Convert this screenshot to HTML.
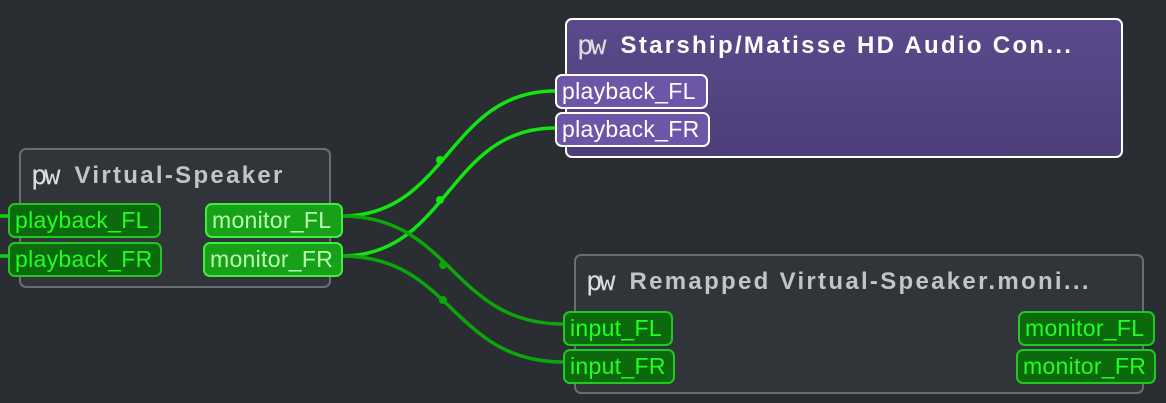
<!DOCTYPE html>
<html><head><meta charset="utf-8"><style>
body{margin:0;width:1166px;height:403px;background:#2a2d32;overflow:hidden;position:relative;font-family:"Liberation Sans",sans-serif}
.node{position:absolute;border:2px solid #6a6d72;border-radius:7px;background:#31353a;box-sizing:border-box}
.title{position:absolute;left:10px;top:9px;font-weight:bold;font-size:24px;color:#c4c4c4;letter-spacing:2.3px;white-space:nowrap}
.title b{font-family:"DejaVu Sans Mono",monospace;font-weight:normal;font-size:27px;color:#ddd;margin-right:17px;letter-spacing:-3px;position:relative;top:1px}
.port{position:absolute;height:35px;box-sizing:border-box;border:2px solid #22c722;border-radius:7px;background:#0b6a0b;color:#22ff22;font-size:23px;letter-spacing:0.3px;line-height:31px;padding:0 5px;white-space:nowrap}
.port.hi{background:#18a018;border-color:#3df03d;color:#b8ffb0}
.port.pu{background:#6d56a8;border-color:#fff;color:#fff}
</style></head><body>
<svg width="1166" height="403" style="position:absolute;left:0;top:0">
<g fill="none" stroke-width="3.5">
<path d="M0 216H10M0 256H10" stroke="#11d011"/>
<path d="M342 216C448 216 448 91 555 91" stroke="#11e611"/>
<path d="M342 256C448 256 448 128 555 128" stroke="#11e611"/>
<path d="M342 216C452 216 452 324 563 324" stroke="#0aa60a"/>
<path d="M342 256C452 256 452 362 563 362" stroke="#0aa60a"/>
</g>
<g fill="#11e611"><circle cx="440" cy="160" r="4"/><circle cx="440" cy="200" r="4"/></g>
<g fill="#0aa60a"><circle cx="443" cy="265" r="4"/><circle cx="443" cy="300" r="4"/></g>
</svg>
<div class="node" style="left:19px;top:148px;width:312px;height:140px"><div class="title"><b>pw</b>Virtual-Speaker</div></div>
<div class="port" style="left:8px;top:203px;width:153px">playback_FL</div>
<div class="port" style="left:8px;top:242px;width:154px">playback_FR</div>
<div class="port hi" style="left:205px;top:203px;width:138px">monitor_FL</div>
<div class="port hi" style="left:203px;top:242px;width:140px">monitor_FR</div>

<div class="node" style="left:565px;top:18px;width:558px;height:140px;background:linear-gradient(#5a4a8c,#4d3e78);border-color:#fff"><div class="title" style="color:#fff"><b>pw</b>Starship/Matisse HD Audio Con...</div></div>
<div class="port pu" style="left:555px;top:74px;width:153px">playback_FL</div>
<div class="port pu" style="left:555px;top:112px;width:155px">playback_FR</div>

<div class="node" style="left:574px;top:254px;width:570px;height:140px"><div class="title"><b>pw</b>Remapped Virtual-Speaker.moni...</div></div>
<div class="port" style="left:563px;top:311px;width:110px">input_FL</div>
<div class="port" style="left:563px;top:349px;width:112px">input_FR</div>
<div class="port" style="left:1018px;top:311px;width:137px">monitor_FL</div>
<div class="port" style="left:1016px;top:349px;width:140px">monitor_FR</div>
</body></html>
